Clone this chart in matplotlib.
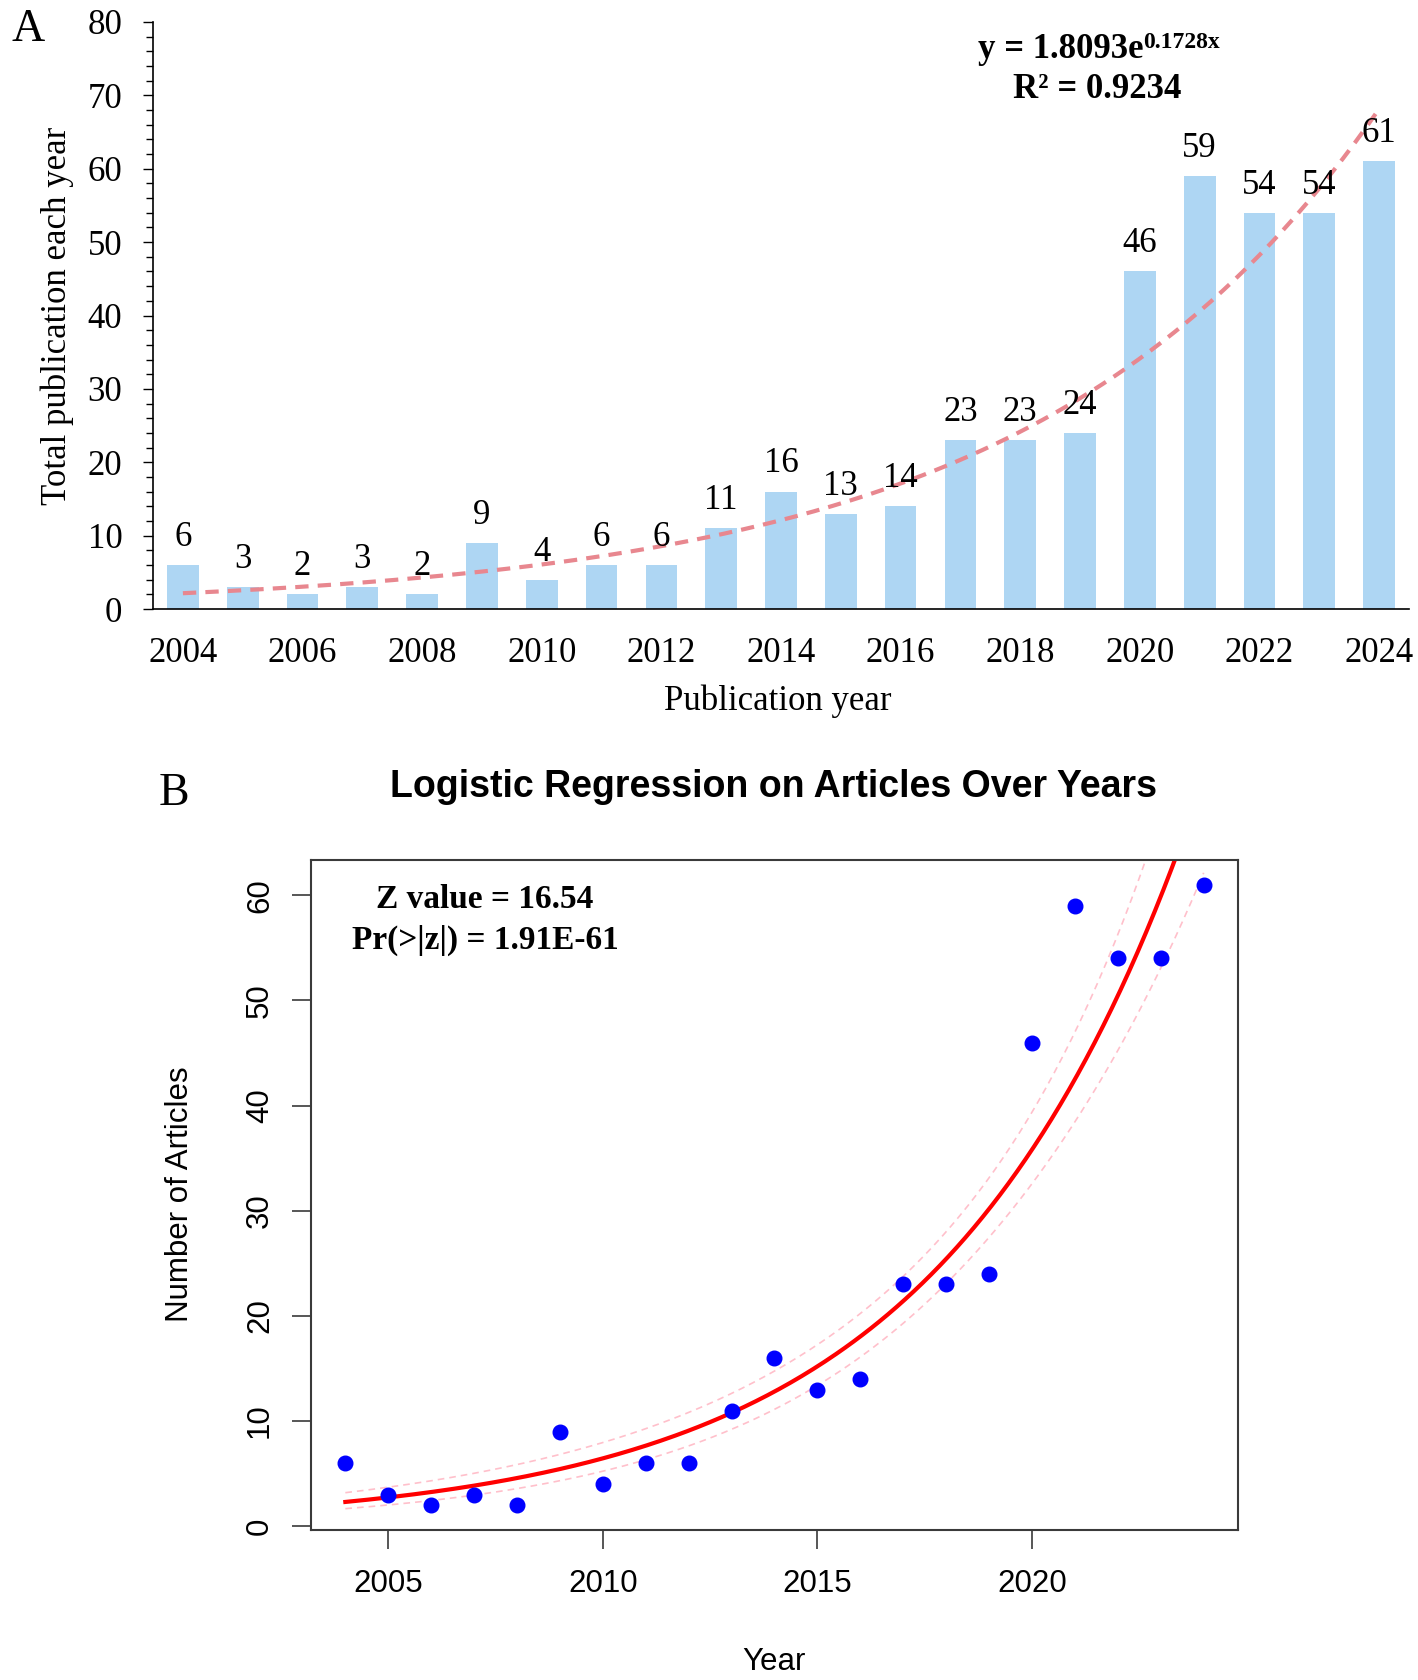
import numpy as np
import matplotlib
matplotlib.use("Agg")
import matplotlib.pyplot as plt
from matplotlib.ticker import MultipleLocator

# ---------------- data ----------------
years = [2004, 2005, 2006, 2007, 2008, 2009, 2010, 2011, 2012, 2013, 2014,
         2015, 2016, 2017, 2018, 2019, 2020, 2021, 2022, 2023, 2024]
counts = [6, 3, 2, 3, 2, 9, 4, 6, 6, 11, 16, 13, 14, 23, 23, 24, 46, 59, 54, 54, 61]
xtick_years = [2004, 2006, 2008, 2010, 2012, 2014, 2016, 2018, 2020, 2022, 2024]
trend_a = 1.8093   # y = a * exp(b * x), x = 1..21 (from the chart's equation)
trend_b = 0.1728
b_xticks = [2005, 2010, 2015, 2020]
b_yticks = [0, 10, 20, 30, 40, 50, 60]

SERIF = "Liberation Serif"
SANS = "Liberation Sans"

W, H = 1418, 1680
fig = plt.figure(figsize=(W / 100, H / 100), dpi=100)

def fx(px):
    return px / W

def fy(py):
    return 1 - py / H

# ---------------- Panel A ----------------
axA = fig.add_axes([fx(153), fy(609), fx(1409) - fx(153), fy(22) - fy(609)])
idx = np.arange(len(years))
axA.bar(idx, counts, width=0.53, color="#AED6F3", zorder=1)
for i, v in zip(idx, counts):
    axA.annotate(str(v), (i, v), xytext=(0, 8), textcoords="offset points",
                 ha="center", va="bottom", fontsize=25, family=SERIF, zorder=3)

xt = np.linspace(1, len(years), 200)
axA.plot(xt - 1, trend_a * np.exp(trend_b * xt), ls=(0, (3.2, 2.2)), lw=3,
         color="#E8878F", zorder=2)

axA.set_xlim(-0.5, len(years) - 0.5)
axA.set_ylim(0, 80)
axA.yaxis.set_major_locator(MultipleLocator(10))
axA.yaxis.set_minor_locator(MultipleLocator(2))
axA.set_xticks([years.index(y) for y in xtick_years])
axA.set_xticklabels([str(y) for y in xtick_years])
for s in ["top", "right"]:
    axA.spines[s].set_visible(False)
for s in ["left", "bottom"]:
    axA.spines[s].set_color("black")
    axA.spines[s].set_linewidth(1.2)
axA.tick_params(axis="y", which="major", direction="out", length=7, width=1,
                pad=15, labelsize=25)
axA.tick_params(axis="y", which="minor", direction="out", length=5, width=1)
axA.tick_params(axis="x", which="both", length=0, pad=20, labelsize=25)
for lab in axA.get_xticklabels() + axA.get_yticklabels():
    lab.set_family(SERIF)

fig.text(fx(57), fy(316), "Total publication each year", rotation=90,
         ha="center", va="center", fontsize=25, family=SERIF)
fig.text(fx(778), fy(701), "Publication year", ha="center", va="center",
         fontsize=25, family=SERIF)
fig.text(fx(28), fy(30), "A", ha="center", va="center", fontsize=33, family=SERIF)

fig.text(fx(1143), fy(49), "y = 1.8093e", ha="right", va="center",
         fontsize=25, family=SERIF, weight="bold")
fig.text(fx(1143), fy(43), "0.1728x", ha="left", va="center",
         fontsize=17, family=SERIF, weight="bold")
fig.text(fx(1097), fy(90), "R² = 0.9234", ha="center", va="center",
         fontsize=25, family=SERIF, weight="bold")

# ---------------- Panel B ----------------
yrs = np.array(years, dtype=float)
cnt = np.array(counts, dtype=float)
X = np.column_stack([np.ones_like(yrs), yrs - yrs[0]])
beta = np.array([np.log(cnt.mean()), 0.0])
for _ in range(100):
    eta = X @ beta
    mu = np.exp(eta)
    z = eta + (cnt - mu) / mu
    XtW = X.T * mu
    beta = np.linalg.solve(XtW @ X, XtW @ z)
mu = np.exp(X @ beta)
cov = np.linalg.inv((X.T * mu) @ X)

g = np.linspace(yrs[0], yrs[-1], 300)
Xg = np.column_stack([np.ones_like(g), g - yrs[0]])
eta_g = Xg @ beta
se_g = np.sqrt(np.einsum("ij,jk,ik->i", Xg, cov, Xg))
fit = np.exp(eta_g)
upper = np.exp(eta_g + 1.96 * se_g)
lower = np.exp(eta_g - 1.96 * se_g)

axB = fig.add_axes([fx(311), fy(1530), fx(1238) - fx(311), fy(860) - fy(1530)])
axB.plot(g, upper, ls=(0, (4, 3)), lw=1.2, color="#FFC0CB", zorder=1)
axB.plot(g, lower, ls=(0, (4, 3)), lw=1.2, color="#FFC0CB", zorder=1)
axB.plot(g, fit, color="red", lw=3, zorder=2)
axB.plot(yrs, cnt, "o", color="blue", ms=10.5, mec="blue", zorder=3)

span_x = yrs.max() - yrs.min()
span_y = cnt.max() - cnt.min()
axB.set_xlim(yrs.min() - 0.04 * span_x, yrs.max() + 0.04 * span_x)
axB.set_ylim(cnt.min() - 0.04 * span_y, cnt.max() + 0.04 * span_y)
axB.set_xticks(b_xticks)
axB.set_yticks(b_yticks)
for s in axB.spines.values():
    s.set_color("#3a3a3a")
    s.set_linewidth(1.5)
axB.tick_params(axis="both", direction="out", length=14, width=1.2,
                color="#3a3a3a", labelsize=22.5)
axB.tick_params(axis="x", pad=14)
axB.tick_params(axis="y", pad=12)
for lab in axB.get_yticklabels():
    lab.set_rotation(90)
    lab.set_va("center")
for lab in axB.get_xticklabels() + axB.get_yticklabels():
    lab.set_family(SANS)

fig.text(fx(774), fy(1662), "Year", ha="center", va="center", fontsize=22.5,
         family=SANS)
fig.text(fx(180), fy(1194), "Number of Articles", rotation=90, ha="center",
         va="center", fontsize=22.5, family=SANS)
fig.text(fx(773), fy(787), "Logistic Regression on Articles Over Years",
         ha="center", va="center", fontsize=27, family=SANS, weight="bold")
fig.text(fx(174), fy(794), "B", ha="center", va="center", fontsize=33, family=SERIF)
fig.text(fx(485), fy(899), "Z value = 16.54", ha="center", va="center",
         fontsize=24, family=SERIF, weight="bold")
fig.text(fx(485), fy(940), "Pr(>|z|) = 1.91E-61", ha="center", va="center",
         fontsize=24, family=SERIF, weight="bold")

fig.savefig("out.png", dpi=100)
